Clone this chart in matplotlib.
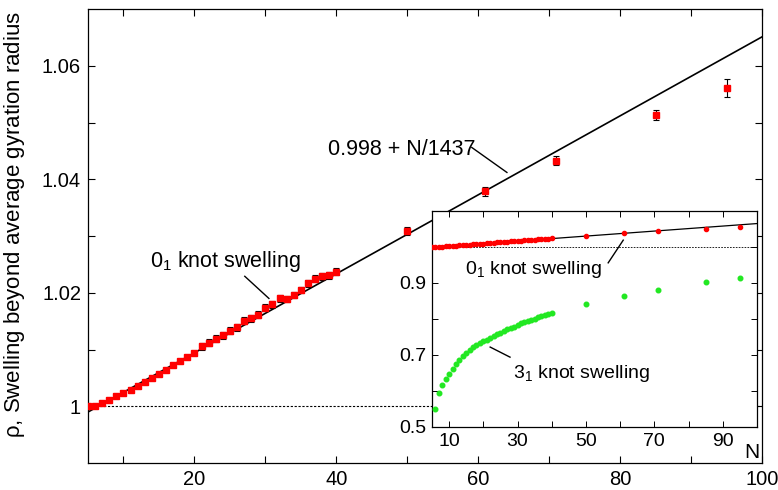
import matplotlib.pyplot as plt
import numpy as np

plt.rcParams['font.family'] = ['Liberation Sans', 'DejaVu Sans']
plt.rcParams['mathtext.default'] = 'regular'

# unknot (0_1) swelling, N = 5..40 then a few long chains
N_unknot = list(range(5, 41)) + [50, 61, 71, 85, 95]
rho_unknot = [1.0000, 1.0000, 1.0006, 1.0011, 1.0018, 1.0023, 1.0029, 1.0036,
              1.0043, 1.0050, 1.0056, 1.0064, 1.0073, 1.0080, 1.0087, 1.0093,
              1.0106, 1.0112, 1.0119, 1.0125, 1.0133, 1.0139, 1.0151, 1.0155,
              1.0161, 1.0174, 1.0180, 1.0190, 1.0189, 1.0196, 1.0205, 1.0217,
              1.0225, 1.0229, 1.0231, 1.0237,
              1.0308, 1.0379, 1.0433, 1.0513, 1.0561]
err_unknot = [0.0003] * 16 + [0.0006] * 20 + [0.0007, 0.0008, 0.0008, 0.0009, 0.0016]

# trefoil (3_1) swelling, N = 6..40 then long chains
N_trefoil = list(range(6, 41)) + [50, 61, 71, 85, 95]
rho_trefoil = [0.549, 0.595, 0.616, 0.632, 0.647, 0.661, 0.675, 0.686, 0.697,
               0.706, 0.714, 0.721, 0.728, 0.733, 0.738, 0.743, 0.748, 0.753,
               0.758, 0.762, 0.767, 0.771, 0.775, 0.779, 0.784, 0.788, 0.791,
               0.795, 0.798, 0.801, 0.805, 0.808, 0.811, 0.814, 0.818,
               0.841, 0.863, 0.880, 0.902, 0.915]

# linear fit as drawn
fit_intercept = 0.9955
fit_slope = 1 / 1437
N_fit = np.array([5, 100])

fig = plt.figure(figsize=(7.78, 4.90), dpi=100)
ax = fig.add_axes([0.1131, 0.0551, 0.8663, 0.9265])

ax.plot(N_fit, fit_intercept + fit_slope * N_fit, color='black', lw=1.2, zorder=2)
ax.axhline(1.0, color='black', lw=0.8, ls=(0, (2, 1.5)), zorder=1)
ax.errorbar(N_unknot, rho_unknot, yerr=err_unknot, fmt='s', color='red',
            markersize=4.2, ecolor='black', elinewidth=0.8, capsize=2,
            capthick=0.8, zorder=3)

ax.set_xlim(5, 100)
ax.set_ylim(0.99, 1.07)
ax.set_xticks([20, 40, 60, 80, 100])
ax.set_xticks([10, 30, 50, 70, 90], minor=True)
ax.set_yticks([1.0, 1.02, 1.04, 1.06])
ax.set_yticklabels(['1', '1.02', '1.04', '1.06'])
ax.set_yticks([1.01, 1.03, 1.05], minor=True)
ax.tick_params(which='both', direction='in', top=True, right=True,
               length=5, width=0.8, labelsize=14.5, pad=5)
ax.set_ylabel(r'$\rho$, Swelling beyond average gyration radius', fontsize=16)
ax.yaxis.set_label_coords(-0.09, 0.525)
for s in ax.spines.values():
    s.set_linewidth(0.9)

ax.text(38.8, 1.0453, '0.998 + N/1437', fontsize=15.5, ha='left', va='center')
ax.plot([59.1, 64.05], [1.0456, 1.0412], color='black', lw=1)
ax.text(13.7, 1.0245, '0$_1$ knot swelling', fontsize=15.5, ha='left', va='baseline')
ax.plot([27.1, 30.5], [1.0229, 1.0190], color='black', lw=1)

# inset with both knots
ins = fig.add_axes([0.5553, 0.1286, 0.4177, 0.4408])
ins.plot(N_fit, fit_intercept + fit_slope * N_fit, color='black', lw=0.9, zorder=2)
ins.axhline(1.0, color='black', lw=0.6, ls=(0, (2, 1.5)), zorder=1)
ins.plot(N_unknot, rho_unknot, 'o', color='red', markersize=3, zorder=3)
ins.plot(N_trefoil, rho_trefoil, 'o', color='#22e822', markersize=3.3, zorder=3)
ins.set_xlim(5, 100)
ins.set_ylim(0.5, 1.1)
ins.set_xticks([10, 30, 50, 70, 90])
ins.set_xticks([20, 40, 60, 80], minor=True)
ins.set_yticks([0.5, 0.7, 0.9])
ins.set_yticks([0.6, 0.8, 1.0], minor=True)
ins.tick_params(which='both', direction='in', top=True, right=True,
                length=4, width=0.7, labelsize=14, pad=4)
for s in ins.spines.values():
    s.set_linewidth(0.9)

ins.text(14.6, 0.925, '0$_1$ knot swelling', fontsize=14, ha='left', va='baseline')
ins.plot([56.5, 60.9], [0.956, 1.019], color='black', lw=1)
ins.text(28.7, 0.636, '3$_1$ knot swelling', fontsize=14, ha='left', va='baseline')
ins.plot([22.0, 27.8], [0.722, 0.694], color='black', lw=1)
ins.text(0.985, -0.12, 'N', transform=ins.transAxes, fontsize=15,
         ha='center', va='center')

fig.savefig('out.png', dpi=100)
